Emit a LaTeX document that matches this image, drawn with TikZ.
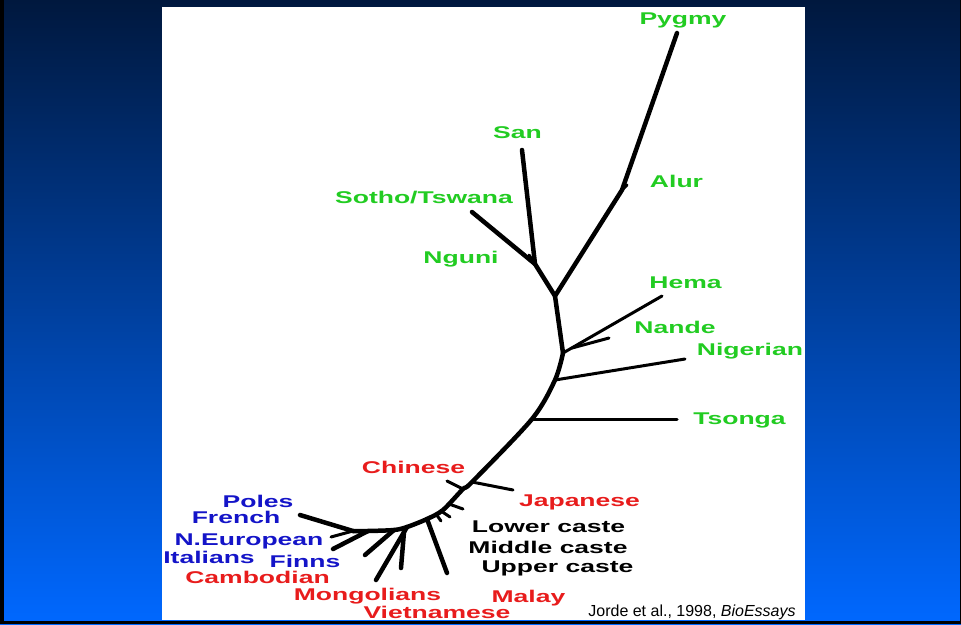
\documentclass[tikz,border=0pt]{standalone}
\usepackage{fontspec}
\setmainfont{Liberation Sans}
\newfontfamily\taxonfont{Liberation Sans}[FakeStretch=1.56]
\usetikzlibrary{positioning}
\definecolor{navytop}{RGB}{0,24,62}
\definecolor{bluebottom}{RGB}{0,104,255}
\definecolor{afrgreen}{RGB}{34,204,34}
\definecolor{asiared}{RGB}{232,28,28}
\definecolor{eurblue}{RGB}{20,20,200}
\tikzstyle{branch} = [draw, line width=4.5pt, line cap=round, line join=round]
\tikzstyle{twig} = [draw, line width=3pt, line cap=round]
\tikzstyle{taxon} = [anchor=base, inner sep=0pt,
                font=\taxonfont\bfseries\fontsize{17}{17}\selectfont]
\begin{document}
\begin{tikzpicture}[x=1pt,y=-1pt]
            \useasboundingbox (0,0) rectangle (961,624);
            % slide background and white panel
            \shade[top color=navytop, bottom color=bluebottom] (0,0) rectangle (961,624);
            \fill[white] (162,7) rectangle (805,620);
            \fill[black] (0,0) rectangle (4,624);
            \fill[black] (0,620.5) rectangle (961,624);
            \fill[black] (959.5,0) rectangle (961,624);
            % tree points
            \coordinate (pygmytip) at (677,33);
            \coordinate (alurfork) at (622,190);
            \coordinate (alurtip) at (627,185);
            \coordinate (africafork) at (555,296);
            \coordinate (sanfork) at (535,264);
            \coordinate (santip) at (522,150);
            \coordinate (sothotip) at (472,212);
            \coordinate (ngunitip) at (529,255);
            \coordinate (hemafork) at (563,353);
            \coordinate (hematip) at (662,296);
            \coordinate (nandefork) at (572,348);
            \coordinate (nandetip) at (609,338);
            \coordinate (nigfork) at (555,380);
            \coordinate (nigtip) at (685,359);
            \coordinate (tsongafork) at (532,419);
            \coordinate (tsongatip) at (677,419);
            \coordinate (japfork) at (472,482);
            \coordinate (japtip) at (513,490);
            \coordinate (chifork) at (463,489);
            \coordinate (chitip) at (447,481);
            \coordinate (castefork) at (443,510);
            \coordinate (malayfork) at (427,519);
            \coordinate (malaytip) at (447,573);
            \coordinate (mongfork) at (407,527);
            \coordinate (mongtip) at (376,580);
            \coordinate (vietfork) at (404,532);
            \coordinate (viettip) at (401,568);
            \coordinate (finnfork) at (394,530);
            \coordinate (finntip) at (365,555);
            \coordinate (neurfork) at (368,531);
            \coordinate (neurtip) at (333,549);
            \coordinate (polefork) at (353,531);
            \coordinate (poletip) at (300,515);
            \coordinate (frenchtip) at (331,537);
            % trunk and branches
            \path[branch] (pygmytip) -- (alurfork) -- (africafork) -- (hemafork);
            \path[branch] plot[smooth] coordinates {(hemafork) (nigfork) (tsongafork) (japfork)
                (chifork) (castefork) (malayfork) (mongfork) (finnfork) (neurfork) (polefork)};
            \path[twig] (alurfork) -- (alurtip);
            \path[branch] (africafork) -- (sanfork) -- (santip);
            \path[branch] (sanfork) -- (sothotip);
            \path[twig] (sanfork) -- (ngunitip);
            \path[twig] (hemafork) -- (hematip);
            \path[twig] (nandefork) -- (nandetip);
            \path[twig] (nigfork) -- (nigtip);
            \path[twig] (tsongafork) -- (tsongatip);
            \path[twig] (japfork) -- (japtip);
            \path[twig] (chifork) -- (chitip);
            \path[twig] (449,504) -- (463,509);
            \path[twig] (441,511) -- (450,517);
            \path[twig] (436,514) -- (441,521);
            \path[branch] (malayfork) -- (malaytip);
            \path[branch] (mongfork) -- (mongtip);
            \path[branch] (vietfork) -- (viettip);
            \path[branch] (finnfork) -- (finntip);
            \path[branch] (neurfork) -- (neurtip);
            \path[branch] (polefork) -- (poletip);
            \path[twig] (polefork) -- (frenchtip);
            % labels
            \node[taxon, afrgreen] (pygmy) at (683,24) {Pygmy};
            \node[taxon, afrgreen] (san) at (517.5,138) {San};
            \node[taxon, afrgreen] (alur) at (676.5,187) {Alur};
            \node[taxon, afrgreen] (sotho) at (424,203) {Sotho/Tswana};
            \node[taxon, afrgreen] (nguni) at (461,263) {Nguni};
            \node[taxon, afrgreen] (hema) at (685.5,288) {Hema};
            \node[taxon, afrgreen] (nande) at (675,333) {Nande};
            \node[taxon, afrgreen] (nigerian) at (750,355) {Nigerian};
            \node[taxon, afrgreen] (tsonga) at (739.5,424) {Tsonga};
            \node[taxon, asiared] (chinese) at (413.5,473) {Chinese};
            \node[taxon, asiared] (japanese) at (579.5,506) {Japanese};
            \node[taxon] (lower) at (548.5,532) {Lower caste};
            \node[taxon] (middle) at (548,553) {Middle caste};
            \node[taxon] (upper) at (557.5,572) {Upper caste};
            \node[taxon, asiared] (malay) at (528.5,602) {Malay};
            \node[taxon, asiared] (vietnamese) at (437,618) {Vietnamese};
            \node[taxon, asiared] (mongolians) at (367.5,600) {Mongolians};
            \node[taxon, asiared] (cambodian) at (257.5,583) {Cambodian};
            \node[taxon, eurblue] (italians) at (209,563) {Italians};
            \node[taxon, eurblue] (finns) at (305,567) {Finns};
            \node[taxon, eurblue] (neuropean) at (249,545) {N.European};
            \node[taxon, eurblue] (french) at (236,523) {French};
            \node[taxon, eurblue] (poles) at (258,507) {Poles};
            \node[anchor=base, inner sep=0pt, font=\fontsize{16}{16}\selectfont] (source) at (692,616)
                {Jorde et al., 1998, \textit{BioEssays}};
        \end{tikzpicture}
\end{document}
